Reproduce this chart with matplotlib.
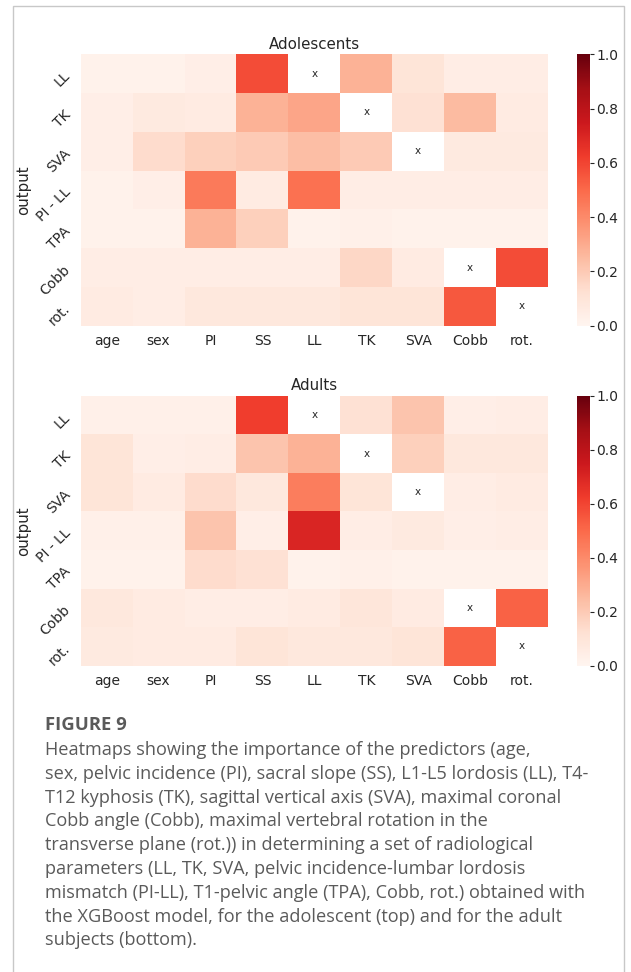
import numpy as np
import matplotlib
matplotlib.use("Agg")
import matplotlib.pyplot as plt
from matplotlib.patches import Rectangle

plt.rcParams['font.family'] = 'DejaVu Sans'

# predictors (columns) and outputs (rows)
predictors = ["age", "sex", "PI", "SS", "LL", "TK", "SVA", "Cobb", "rot."]
outputs = ["LL", "TK", "SVA", "PI - LL", "TPA", "Cobb", "rot."]

nan = np.nan
# importance values, nan = predictor equals output ("x")
adolescents = [
    [0.02, 0.02, 0.04, 0.58, nan, 0.28, 0.10, 0.05, 0.05],
    [0.04, 0.07, 0.06, 0.28, 0.32, nan, 0.12, 0.25, 0.06],
    [0.04, 0.14, 0.18, 0.20, 0.24, 0.20, nan, 0.07, 0.07],
    [0.02, 0.04, 0.45, 0.06, 0.48, 0.05, 0.05, 0.05, 0.05],
    [0.02, 0.02, 0.28, 0.18, 0.02, 0.03, 0.02, 0.02, 0.02],
    [0.05, 0.05, 0.05, 0.05, 0.05, 0.16, 0.06, nan, 0.58],
    [0.06, 0.05, 0.08, 0.08, 0.08, 0.10, 0.10, 0.55, nan],
]
adults = [
    [0.03, 0.03, 0.03, 0.62, nan, 0.12, 0.22, 0.04, 0.05],
    [0.10, 0.04, 0.05, 0.22, 0.28, nan, 0.18, 0.08, 0.08],
    [0.10, 0.06, 0.14, 0.08, 0.44, 0.10, nan, 0.05, 0.06],
    [0.03, 0.03, 0.22, 0.04, 0.70, 0.05, 0.07, 0.04, 0.05],
    [0.02, 0.02, 0.14, 0.12, 0.02, 0.03, 0.02, 0.02, 0.02],
    [0.08, 0.06, 0.05, 0.05, 0.06, 0.09, 0.06, nan, 0.52],
    [0.07, 0.06, 0.06, 0.10, 0.08, 0.08, 0.10, 0.52, nan],
]
titles = ["Adolescents", "Adults"]
cbar_ticks = [0.0, 0.2, 0.4, 0.6, 0.8, 1.0]

caption_title = "FIGURE 9"
caption_lines = [
    "Heatmaps showing the importance of the predictors (age,",
    "sex, pelvic incidence (PI), sacral slope (SS), L1-L5 lordosis (LL), T4-",
    "T12 kyphosis (TK), sagittal vertical axis (SVA), maximal coronal",
    "Cobb angle (Cobb), maximal vertebral rotation in the",
    "transverse plane (rot.)) in determining a set of radiological",
    "parameters (LL, TK, SVA, pelvic incidence-lumbar lordosis",
    "mismatch (PI-LL), T1-pelvic angle (TPA), Cobb, rot.) obtained with",
    "the XGBoost model, for the adolescent (top) and for the adult",
    "subjects (bottom).",
]

W, H = 631, 972
fig = plt.figure(figsize=(W / 100, H / 100), dpi=100)
tc = "#262626"

# frame around the figure
fig.add_artist(Rectangle((12.7 / W, -0.01), (624 - 12.7) / W, 1 - 5.7 / H + 0.01,
                         transform=fig.transFigure, fill=False,
                         edgecolor="#c8c8c8", linewidth=1.0))

# pixel boxes: (left, top, right, bottom)
boxes = [(80.7, 54.3, 548, 325.7), (80.7, 395.7, 548, 665.7)]
for data, title, (l, t, r, b) in zip([adolescents, adults], titles, boxes):
    ax = fig.add_axes([l / W, 1 - b / H, (r - l) / W, (b - t) / H])
    cax = fig.add_axes([577 / W, 1 - b / H, 13 / W, (b - t) / H])
    m = np.ma.masked_invalid(np.array(data))
    mesh = ax.pcolormesh(m, cmap="Reds", vmin=0, vmax=1)
    ax.set_xlim(0, len(predictors))
    ax.set_ylim(len(outputs), 0)
    for i in range(len(outputs)):
        for j in range(len(predictors)):
            if np.isnan(data[i][j]):
                ax.text(j + 0.5, i + 0.5, "x", ha="center", va="center",
                        fontsize=7.5, color=tc)
    ax.set_xticks(np.arange(len(predictors)) + 0.5)
    ax.set_xticklabels(predictors, fontsize=10, color=tc)
    ax.set_yticks(np.arange(len(outputs)) + 0.5)
    ax.set_yticklabels(outputs, fontsize=10, color=tc, rotation=45,
                       va="center", ha="right", rotation_mode="anchor")
    ax.tick_params(axis="x", length=0, pad=6)
    ax.tick_params(axis="y", length=0, pad=9)
    for s in ax.spines.values():
        s.set_visible(False)
    ax.set_ylabel("output", fontsize=10.8, color=tc, labelpad=2)
    ax.set_title(title, fontsize=10.8, color=tc, pad=4)

    cb = fig.colorbar(mesh, cax=cax, ticks=cbar_ticks)
    cb.outline.set_visible(False)
    cb.ax.tick_params(labelsize=10, length=3, width=0.8, colors=tc, pad=1.5)
    cb.ax.set_yticklabels(["%.1f" % v for v in cbar_ticks])

# caption
cap_color = "#5a5a5a"
fig.text(45 / W, 1 - 725 / H, caption_title, fontsize=13.3, fontweight="bold",
         color=cap_color, family="Open Sans", va="center")
for k, line in enumerate(caption_lines):
    fig.text(45 / W, 1 - (750 + k * 23.8) / H, line, fontsize=13.1,
             color=cap_color, family="Open Sans", va="center")

fig.savefig("out.png", dpi=100)
